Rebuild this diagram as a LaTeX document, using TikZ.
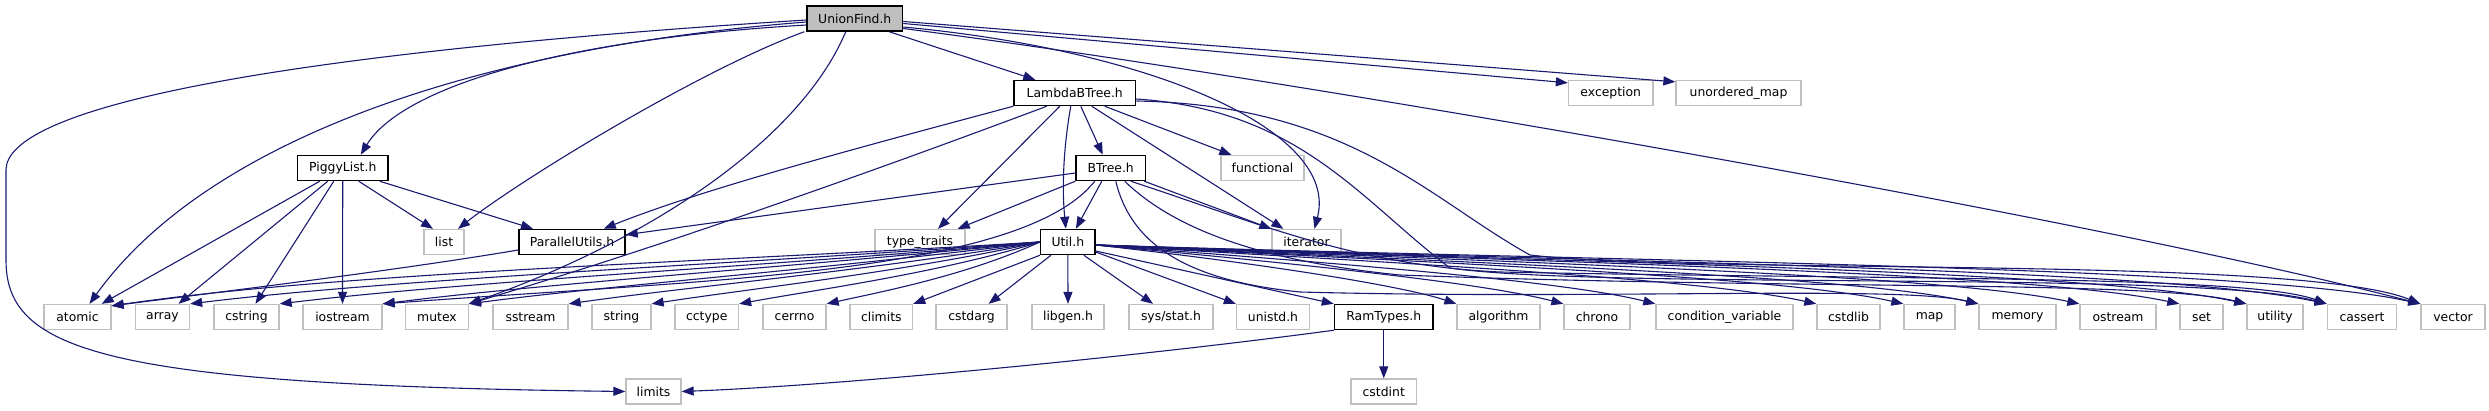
\documentclass[tikz,border=0pt]{standalone}
\usepackage{fontspec}
\setmainfont{DejaVu Sans}
\usepackage{xcolor}
\usepackage{tikz}
\usetikzlibrary{arrows.meta}

\definecolor{edgeblue}{HTML}{191970}
\definecolor{sysgray}{HTML}{BFBFBF}

\begin{document}
\begin{tikzpicture}[
    x=1pt, y=1pt,
    font=\fontsize{12.4}{14}\selectfont,
    hdr/.style={draw=black, line width=1.5pt, minimum height=25pt, inner sep=0pt},
    sys/.style={draw=sysgray, line width=1.3pt, minimum height=25pt, inner sep=0pt},
    cur/.style={hdr, fill=sysgray},
    dep/.style={draw=edgeblue, line width=1.1pt, -{Triangle[length=12pt, width=9pt]}}
]
\useasboundingbox (0,0) rectangle (2489,-411);

% 1. Headers (doxygen layout, rows top to bottom)
\node[cur, minimum width=95.5pt] (uf) at (854.75,-18.5) {UnionFind.h};

\node[hdr, minimum width=121.5pt] (lbt) at (1074.75,-93) {LambdaBTree.h};
\node[sys, minimum width=84.5pt] (exc) at (1610.75,-93) {exception};
\node[sys, minimum width=125pt] (umap) at (1738.5,-93) {unordered\_map};

\node[hdr, minimum width=90.5pt] (piggy) at (342.75,-168) {PiggyList.h};
\node[hdr, minimum width=69.5pt] (btree) at (1110.75,-168) {BTree.h};
\node[sys, minimum width=83pt] (func) at (1262.5,-168) {functional};

\node[sys, minimum width=40pt] (list) at (444,-242) {list};
\node[hdr, minimum width=106pt] (par) at (572,-242) {ParallelUtils.h};
\node[sys, minimum width=90pt] (tt) at (920,-242) {type\_traits};
\node[hdr, minimum width=54.3pt] (util) at (1067.85,-242) {Util.h};
\node[sys, minimum width=69pt] (iter) at (1306.5,-242) {iterator};

\node[sys, minimum width=67pt] (atomic) at (77.5,-317) {atomic};
\node[sys, minimum width=54pt] (array) at (162.5,-317) {array};
\node[sys, minimum width=65pt] (cstring) at (246.5,-317) {cstring};
\node[sys, minimum width=79pt] (iostream) at (342.5,-317) {iostream};
\node[sys, minimum width=62.5pt] (mutex) at (437,-317) {mutex};
\node[sys, minimum width=75pt] (sstream) at (530.5,-317) {sstream};
\node[sys, minimum width=59pt] (string) at (621.5,-317) {string};
\node[sys, minimum width=63.5pt] (cctype) at (706.75,-317) {cctype};
\node[sys, minimum width=63pt] (cerrno) at (794.5,-317) {cerrno};
\node[sys, minimum width=62.6pt] (climits) at (881.3,-317) {climits};
\node[sys, minimum width=71pt] (cstdarg) at (971.5,-317) {cstdarg};
\node[sys, minimum width=72pt] (libgen) at (1068,-317) {libgen.h};
\node[sys, minimum width=84pt] (sysstat) at (1171,-317) {sys/stat.h};
\node[sys, minimum width=73pt] (unistd) at (1273,-317) {unistd.h};
\node[hdr, minimum width=98.5pt] (ramtypes) at (1383.75,-317) {RamTypes.h};
\node[sys, minimum width=83pt] (algorithm) at (1498.5,-317) {algorithm};
\node[sys, minimum width=66pt] (chrono) at (1597,-317) {chrono};
\node[sys, minimum width=137pt] (condvar) at (1724.5,-317) {condition\_variable};
\node[sys, minimum width=63pt] (cstdlib) at (1848.5,-317) {cstdlib};
\node[sys, minimum width=51pt] (map) at (1929.5,-317) {map};
\node[sys, minimum width=77pt] (memory) at (2017.5,-317) {memory};
\node[sys, minimum width=76pt] (ostream) at (2118,-317) {ostream};
\node[sys, minimum width=43pt] (set) at (2201.5,-317) {set};
\node[sys, minimum width=56pt] (utility) at (2275,-317) {utility};
\node[sys, minimum width=69.5pt] (cassert) at (2362,-317) {cassert};
\node[sys, minimum width=64pt] (vector) at (2453,-317) {vector};

\node[sys, minimum width=55pt] (limits) at (653.5,-391.5) {limits};
\node[sys, minimum width=65.5pt] (cstdint) at (1383.75,-391.5) {cstdint};

% 2. UnionFind.h includes
\draw[dep] ([yshift=-1.5pt]uf.west) .. controls (250,-55) and (6,-110) .. (6,-170) -- (6,-260) .. controls (6,-350) and (100,-385) .. (limits.west);
\draw[dep] ([yshift=-3.5pt]uf.west) .. controls (450,-50) and (200,-150) .. ([xshift=12pt]atomic.north);
\draw[dep] ([yshift=-6.5pt]uf.west) .. controls (550,-40) and (400,-90) .. ([xshift=18pt]piggy.north);
\draw[dep] ([xshift=-2pt]uf.south west) .. controls (700,-70) and (520,-180) .. ([xshift=14pt]list.north);
\draw[dep] ([xshift=-9pt]uf.south) .. controls (800,-140) and (650,-240) .. (mutex.north east);
\draw[dep] ([xshift=-14pt]uf.south east) -- ([xshift=22pt]lbt.north west);
\draw[dep] ([yshift=-8.5pt]uf.east) .. controls (1150,-50) and (1340,-130) .. ([xshift=8pt]iter.north);
\draw[dep] ([yshift=-5pt]uf.east) -- ([yshift=-3pt]exc.north west);
\draw[dep] ([yshift=-3pt]uf.east) -- ([yshift=-2pt]umap.north west);
\draw[dep] ([yshift=-10pt]uf.east) .. controls (1300,-80) and (2100,-220) .. (vector.north west);

% 3. PiggyList.h and ParallelUtils.h includes
\draw[dep] ([xshift=-23pt]piggy.south) -- ([xshift=-10pt]atomic.north east);
\draw[dep] ([xshift=-15pt]piggy.south) -- ([xshift=16pt]array.north);
\draw[dep] ([xshift=-9pt]piggy.south) -- ([xshift=9pt]cstring.north);
\draw[dep] (piggy.south) -- (iostream.north);
\draw[dep] ([xshift=16pt]piggy.south) -- ([xshift=-11pt]list.north);
\draw[dep] ([xshift=37pt]piggy.south) -- ([xshift=-39pt]par.north);

\draw[dep] ([yshift=-8pt]par.west) .. controls (400,-270) and (220,-292) .. ([yshift=-2pt]atomic.north east);

% 4. LambdaBTree.h includes
\draw[dep] (lbt.south west) .. controls (850,-150) and (700,-190) .. ([xshift=-22pt]par.north east);
\draw[dep] ([xshift=-28pt]lbt.south) .. controls (850,-180) and (650,-250) .. (mutex.north east);
\draw[dep] ([xshift=-15pt]lbt.south) -- ([xshift=18pt]tt.north);
\draw[dep] ([xshift=-4pt]lbt.south) .. controls (1063,-150) and (1062,-190) .. ([xshift=-2pt]util.north);
\draw[dep] ([xshift=6pt]lbt.south) -- ([xshift=-8pt]btree.north);
\draw[dep] ([xshift=17pt]lbt.south) -- ([xshift=12pt]iter.north west);
\draw[dep] ([xshift=30pt]lbt.south) -- ([xshift=11pt]func.north west);
\draw[dep] ([yshift=-6pt]lbt.east) .. controls (1300,-110) and (1360,-200) .. (1450,-268) .. controls (1600,-290) and (2200,-270) .. (cassert.north west);
\draw[dep] ([yshift=-8pt]lbt.east) .. controls (1350,-105) and (1430,-200) .. (1530,-255) .. controls (1700,-275) and (2300,-255) .. (vector.north west);

% 5. BTree.h includes
\draw[dep] ([yshift=-5pt]btree.west) -- ([yshift=-6pt]par.north east);
\draw[dep] (btree.south west) -- ([xshift=-8pt]tt.north east);
\draw[dep] ([xshift=-9pt]btree.south) -- ([xshift=8pt]util.north);
\draw[dep] ([xshift=-16pt]btree.south) .. controls (1020,-275) and (700,-280) .. (iostream.north east);
\draw[dep] ([xshift=-2pt]btree.south east) -- (iter.north west);
\draw[dep] ([xshift=5pt]btree.south) .. controls (1130,-240) and (1180,-280) .. (1300,-292) .. controls (1600,-300) and (1900,-285) .. (memory.north west);
\draw[dep] ([xshift=14pt]btree.south) .. controls (1170,-225) and (1250,-260) .. (1400,-275) .. controls (1800,-290) and (2150,-280) .. (utility.north west);
\draw[dep] ([xshift=20pt]btree.south) .. controls (1250,-220) and (1350,-265) .. (1500,-272) .. controls (1900,-280) and (2250,-275) .. (cassert.north west);

% 6. Util.h includes, left side
\draw[dep] (util.west) .. controls (715,-262) and (343,-272) .. ([yshift=-2pt]atomic.north east);
\draw[dep] (util.west) .. controls (742,-264) and (402,-278) .. (array.north east);
\draw[dep] (util.west) .. controls (774,-266) and (469,-281) .. (cstring.north east);
\draw[dep] (util.west) .. controls (810,-266) and (546,-283) .. (iostream.north east);
\draw[dep] (util.west) .. controls (840,-268) and (611,-285) .. (mutex.north east);
\draw[dep] (util.west) .. controls (875,-270) and (686,-287) .. (sstream.north east);
\draw[dep] (util.west) .. controls (904,-272) and (748,-289) .. (string.north east);
\draw[dep] (util.west) .. controls (935,-274) and (814,-290) .. (cctype.north east);
\draw[dep] (util.west) .. controls (965,-276) and (880,-292) .. (cerrno.north east);

% 7. Util.h includes, below
\draw[dep] (util.south west) -- (climits.north east);
\draw[dep] ([xshift=11pt]util.south west) -- ([xshift=-19pt]cstdarg.north east);
\draw[dep] (util.south) -- (libgen.north);
\draw[dep] ([xshift=16pt]util.south) -- ([xshift=-18pt]sysstat.north);
\draw[dep] ([yshift=-10pt]util.east) -- (unistd.north west);
\draw[dep] ([yshift=-9pt]util.east) -- (ramtypes.north west);

% 8. Util.h includes, right side
\draw[dep] ([yshift=-3pt]util.east) .. controls (1250,-262) and (1400,-285) .. (algorithm.north west);
\draw[dep] ([yshift=-3pt]util.east) .. controls (1280,-262) and (1480,-282) .. (chrono.north west);
\draw[dep] ([yshift=-3pt]util.east) .. controls (1320,-262) and (1560,-280) .. (condvar.north west);
\draw[dep] ([yshift=-3pt]util.east) .. controls (1380,-262) and (1700,-278) .. (cstdlib.north west);
\draw[dep] ([yshift=-3pt]util.east) .. controls (1420,-262) and (1780,-276) .. (map.north west);
\draw[dep] ([yshift=-3pt]util.east) .. controls (1450,-262) and (1850,-275) .. (memory.north west);
\draw[dep] ([yshift=-3pt]util.east) .. controls (1500,-262) and (1940,-274) .. (ostream.north west);
\draw[dep] ([yshift=-3pt]util.east) .. controls (1540,-262) and (2030,-272) .. (set.north west);
\draw[dep] ([yshift=-3pt]util.east) .. controls (1560,-262) and (2090,-270) .. (utility.north west);
\draw[dep] ([yshift=-3pt]util.east) .. controls (1600,-262) and (2160,-268) .. (cassert.north west);
\draw[dep] ([yshift=-3pt]util.east) .. controls (1640,-262) and (2250,-266) .. (vector.north west);

% 9. RamTypes.h includes
\draw[dep] (ramtypes.south) -- (cstdint.north);
\draw[dep] (ramtypes.south west) .. controls (1150,-355) and (850,-385) .. (limits.east);

\end{tikzpicture}
\end{document}
